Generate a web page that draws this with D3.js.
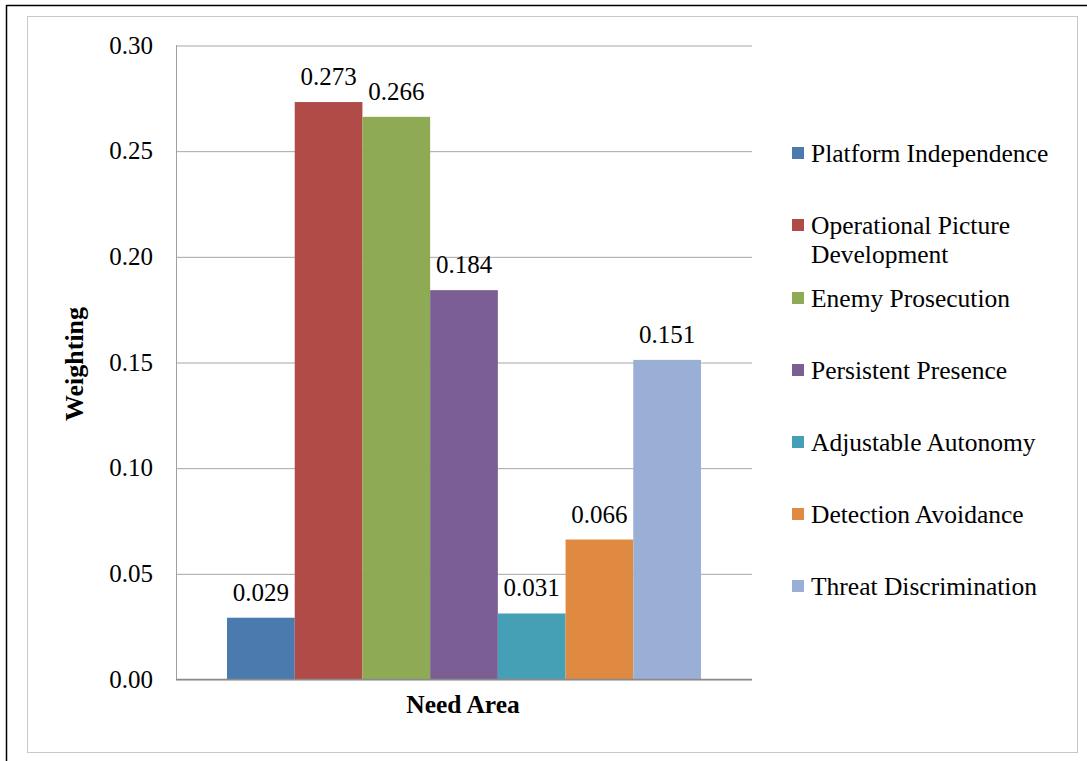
<!DOCTYPE html>
<html lang="en">
<head>
  <meta charset="UTF-8" />
  <title>Need Area Weighting</title>
  <script src="https://d3js.org/d3.v7.min.js"></script>
  <style>
    body { margin: 0; padding: 0; background: #fff; }
    svg text { font-family: 'Liberation Serif', 'Times New Roman', serif; fill: #000; }
    .grid line { stroke: #a6a6a6; stroke-width: 1; }
    .grid path { display: none; }
  </style>
</head>
<body>
  <div id="chart"></div>
  <script>
    // chart data
    const needAreas = [
      "Platform Independence",
      "Operational Picture Development",
      "Enemy Prosecution",
      "Persistent Presence",
      "Adjustable Autonomy",
      "Detection Avoidance",
      "Threat Discrimination"
    ];
    const weights = [0.029, 0.273, 0.266, 0.184, 0.031, 0.066, 0.151];
    const yTicks = [0, 0.05, 0.10, 0.15, 0.20, 0.25, 0.30];
    const colors = ["#4a7aae", "#b04b48", "#8faa55", "#7a5e94", "#46a0b5", "#e08a41", "#9aafd6"];

    const width = 1087, height = 761;
    const plot = { left: 176, right: 752, top: 45, bottom: 679 };

    const svg = d3.select("#chart").append("svg")
      .attr("width", width)
      .attr("height", height);

    // frame: black lines top/left, grey chart border
    svg.append("line").attr("x1", 6).attr("x2", width).attr("y1", 5.5).attr("y2", 5.5)
      .attr("stroke", "#000").attr("stroke-width", 1.5);
    svg.append("line").attr("x1", 6.5).attr("x2", 6.5).attr("y1", 5).attr("y2", height)
      .attr("stroke", "#000").attr("stroke-width", 1.5);
    svg.append("rect").attr("x", 27.5).attr("y", 16.5).attr("width", 1050).attr("height", 736)
      .attr("fill", "none").attr("stroke", "#c8c8c8").attr("stroke-width", 1);

    const y = d3.scaleLinear().domain([0, 0.30]).range([plot.bottom, plot.top]);

    // one category; bars placed side by side inside it
    const x = d3.scaleBand().domain(needAreas)
      .range([227, 701]).paddingInner(0).paddingOuter(0);

    // gridlines
    svg.append("g")
      .attr("class", "grid")
      .attr("transform", `translate(${plot.left},0)`)
      .call(d3.axisLeft(y).tickValues(yTicks).tickSize(-(plot.right - plot.left)).tickFormat(""))
      .selectAll("line").attr("transform", "translate(0,0.5)");

    // left axis line
    svg.append("line")
      .attr("x1", plot.left + 0.5).attr("x2", plot.left + 0.5)
      .attr("y1", plot.top).attr("y2", plot.bottom)
      .attr("stroke", "#a0a0a0");

    // tick labels
    svg.append("g").selectAll("text")
      .data(yTicks)
      .enter().append("text")
      .attr("x", 153)
      .attr("y", d => y(d))
      .attr("dy", "0.35em")
      .attr("text-anchor", "end")
      .style("font-size", "25px")
      .text(d => d3.format(".2f")(d));

    // bars
    svg.append("g").selectAll("rect")
      .data(weights)
      .enter().append("rect")
      .attr("x", (d, i) => x(needAreas[i]))
      .attr("y", d => y(d))
      .attr("width", x.bandwidth())
      .attr("height", d => y(0) - y(d))
      .attr("fill", (d, i) => colors[i]);

    // baseline
    svg.append("line")
      .attr("x1", plot.left).attr("x2", plot.right)
      .attr("y1", plot.bottom + 0.5).attr("y2", plot.bottom + 0.5)
      .attr("stroke", "#8a8a8a").attr("stroke-width", 1.5);

    // value labels
    svg.append("g").selectAll("text")
      .data(weights)
      .enter().append("text")
      .attr("x", (d, i) => x(needAreas[i]) + x.bandwidth() / 2)
      .attr("y", d => y(d) - 17)
      .attr("text-anchor", "middle")
      .style("font-size", "25px")
      .text(d => d3.format(".3f")(d));

    // axis titles
    svg.append("text")
      .attr("transform", "translate(83,364) rotate(-90)")
      .attr("text-anchor", "middle")
      .style("font-size", "26px")
      .style("font-weight", "bold")
      .text("Weighting");

    svg.append("text")
      .attr("x", 463)
      .attr("y", 713)
      .attr("text-anchor", "middle")
      .style("font-size", "25.5px")
      .style("font-weight", "bold")
      .text("Need Area");

    // legend
    const legendY = [153, 225, 298, 370, 442, 514, 586];
    const legend = svg.append("g").selectAll("g")
      .data(needAreas)
      .enter().append("g")
      .attr("transform", (d, i) => `translate(792,${legendY[i]})`);

    legend.append("rect")
      .attr("x", 0).attr("y", -6)
      .attr("width", 12).attr("height", 12)
      .attr("fill", (d, i) => colors[i]);

    legend.append("text")
      .attr("x", 19)
      .attr("y", 0)
      .attr("dy", "0.35em")
      .style("font-size", "25.5px")
      .each(function(d) {
        // wrap the long name onto two lines like the original
        const t = d3.select(this);
        if (d === "Operational Picture Development") {
          t.append("tspan").attr("x", 19).text("Operational Picture");
          t.append("tspan").attr("x", 19).attr("dy", "29px").text("Development");
        } else {
          t.text(d);
        }
      });
  </script>
</body>
</html>
